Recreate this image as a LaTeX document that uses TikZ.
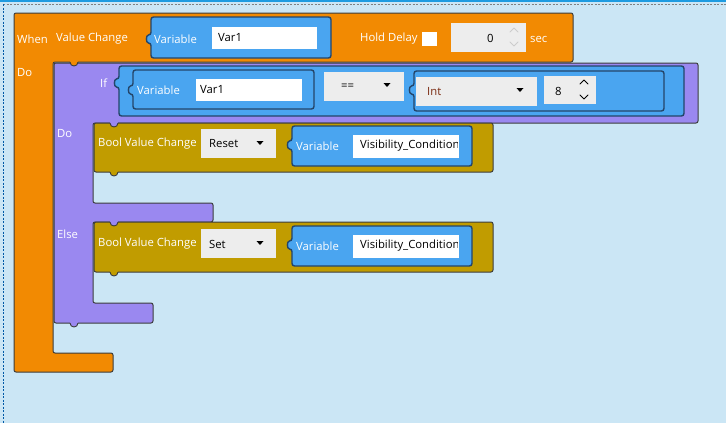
\documentclass[tikz,border=0pt]{standalone}
\usepackage{fontspec}
\setmainfont{Open Sans}
\definecolor{bg}{HTML}{CBE6F5}
\definecolor{orng}{HTML}{F28A02}
\definecolor{purp}{HTML}{9A88F0}
\definecolor{gold}{HTML}{C19C00}
\definecolor{blu}{HTML}{4AA5F0}
\definecolor{bluline}{HTML}{24456A}
\definecolor{blkline}{HTML}{3C3C3C}
\definecolor{fgray}{HTML}{EDEDED}
\definecolor{topblue}{HTML}{1E9BE0}
\definecolor{intred}{HTML}{7A2A10}
\newcommand{\myvblock}[5]{%
  \draw[vblk] (#1,#2) -- (#3,#2) -- (#3,#4) -- (#1,#4) -- (#1,#5+4)
    .. controls (#1-5.3,#5+4) and (#1-5.3,#5-4) .. (#1,#5-4) -- cycle;}
\newcommand{\mytab}[3]{%
  \fill[#1] (#2-4,#3-1.3) rectangle (#2+4,#3+0.5);
  \fill[#1] (#2-4,#3) .. controls (#2-4,#3+5.3) and (#2+4,#3+5.3) .. (#2+4,#3) -- cycle;
  \draw[blkline, line width=0.9pt] (#2-4,#3) .. controls (#2-4,#3+5.3) and (#2+4,#3+5.3) .. (#2+4,#3);}
\newcommand{\mydown}[2]{\fill[black] (#1-3.5,#2-2) -- (#1+3.5,#2-2) -- (#1,#2+2) -- cycle;}
\tikzset{
  blk/.style={draw=blkline, line width=1pt, rounded corners=2pt},
  vblk/.style={fill=blu, draw=bluline, line width=1.4pt, rounded corners=2.5pt},
  lbl/.style={text=white, font=\fontsize{11.3}{14}\selectfont, anchor=west, inner sep=0pt},
  txt/.style={text=black, font=\fontsize{11.3}{14}\selectfont, anchor=west, inner sep=0pt},
  chev/.style={line width=1pt, line cap=round, line join=round}
}
\begin{document}
\begin{tikzpicture}[x=1pt,y=-1pt]
\fill[bg] (0,0) rectangle (726,423);
\useasboundingbox (0,0) rectangle (726,423);
\draw[topblue, line width=1.2pt] (0,1) -- (726,1);
\draw[gray, line width=0.8pt, dashed, dash pattern=on 2pt off 1.5pt] (3,4) -- (726,4);
\draw[teal!70!blue, line width=0.8pt, dash pattern=on 2pt off 1.5pt] (3,4) -- (3,423);

% orange When block
\draw[blk, fill=orng] (14,13) -- (573,13) -- (573,62) -- (53,62) -- (53,353) -- (113,353) -- (113,372) -- (14,372) -- cycle;
% purple If block
\draw[blk, fill=purp] (54,63) -- (698,63) -- (698,123) -- (93,123) -- (93,203) -- (213,203) -- (213,222) -- (93,222) -- (93,303) -- (153,303) -- (153,323) -- (54,323) -- cycle;
% gold blocks
\draw[blk, fill=gold] (94,123) rectangle (493,172);
\draw[blk, fill=gold] (94,222) rectangle (493,272);

% tabs
\mytab{orng}{74}{62}
\mytab{purp}{114}{123}
\mytab{gold}{114}{172}
\mytab{purp}{114}{222}
\mytab{gold}{114}{272}
\mytab{purp}{74}{323}

% When header contents
\node[lbl] (when) at (17,39) {When};
\node[lbl] (do1) at (17,73) {Do};
\node[lbl] (vc) at (56,39) {Value Change};
\myvblock{151}{17}{331}{58}{39}
\node[lbl] (var1lbl) at (154,39) {Variable};
\fill[white] (212,27) rectangle (317,49);
\node[txt] (var1) at (218,38) {Var1};
\node[lbl] (hold) at (360,39) {Hold Delay};
\fill[white] (422,32) rectangle (437,46);
\fill[fgray] (451,23) rectangle (526,52);
\node[txt] (zero) at (487,38) {0};
\draw[chev, gray!40] (510,32) -- (514,28) -- (518,32);
\draw[chev, gray!40] (510,42) -- (514,46) -- (518,42);
\node[lbl] (sec) at (530,39) {sec};

% If row
\node[lbl] (iflbl) at (100,83) {If};
\myvblock{119}{66}{684}{116}{83}
\myvblock{133}{70}{314}{109}{90}
\node[lbl] (var2lbl) at (137,90) {Variable};
\fill[white] (196,79) rectangle (302,101);
\node[txt] (var2) at (200,90) {Var1};
\fill[fgray] (324,72) rectangle (404,101);
\node[txt] (eq) at (341,87) {==};
\mydown{387}{85}
\myvblock{414}{71}{664}{111}{90}
\fill[fgray] (416,77) rectangle (537,106);
\node[txt, text=intred] (int) at (427,92) {Int};
\mydown{520}{90}
\fill[fgray] (544,76) rectangle (596,104);
\node[txt] (eight) at (555,91) {8};
\draw[chev] (580,84) -- (584,80) -- (588,84);
\draw[chev] (580,95) -- (584,99) -- (588,95);

% Do / Else labels
\node[lbl] (do2) at (57,134) {Do};
\node[lbl] (else) at (57,234) {Else};

% Bool block 1
\node[lbl] (bvc1) at (98,144) {Bool Value Change};
\fill[fgray] (201,129) rectangle (276,158);
\node[txt] (reset) at (209,144) {Reset};
\mydown{260}{143}
\myvblock{292}{126}{472}{166}{145}
\node[lbl] (var3lbl) at (296,146) {Variable};
\fill[white] (353,135) rectangle (459,158);
\begin{scope}
\clip (353,135) rectangle (457,158);
\node[txt] (vis1) at (360,146) {Visibility\_Condition};
\end{scope}

% Bool block 2
\node[lbl] (bvc2) at (98,244) {Bool Value Change};
\fill[fgray] (201,229) rectangle (276,258);
\node[txt] (set) at (209,244) {Set};
\mydown{260}{243}
\myvblock{292}{226}{472}{266}{245}
\node[lbl] (var4lbl) at (296,246) {Variable};
\fill[white] (353,235) rectangle (459,258);
\begin{scope}
\clip (353,235) rectangle (457,258);
\node[txt] (vis2) at (360,246) {Visibility\_Condition};
\end{scope}
\end{tikzpicture}
\end{document}
